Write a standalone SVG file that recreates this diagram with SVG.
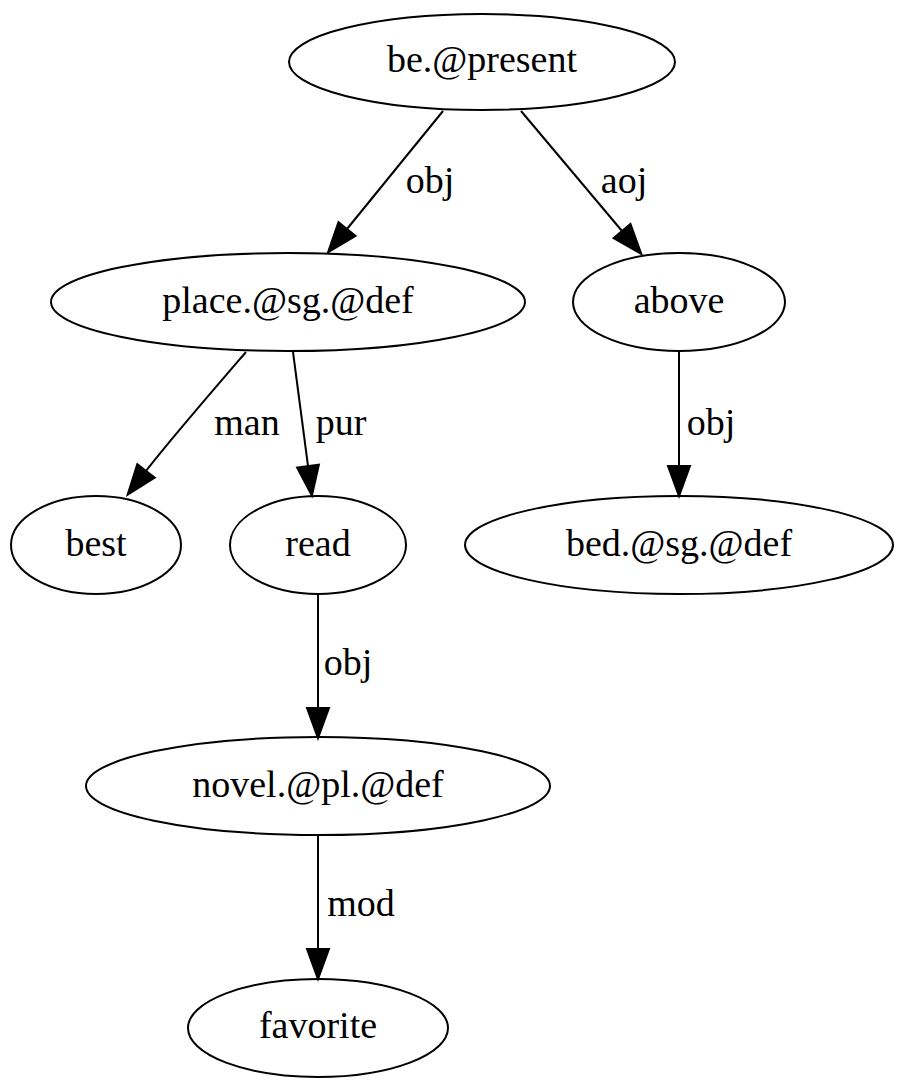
<svg xmlns="http://www.w3.org/2000/svg" width="905" height="1088" viewBox="0 0 905 1088">
<defs>
<style>
.n ellipse{fill:none;stroke:#000;stroke-width:2}
text{font-family:"Liberation Serif","Times New Roman",serif;font-size:38px;fill:#000}
.n text{text-anchor:middle}
.e path{fill:none;stroke:#000;stroke-width:2}
.e text{text-anchor:middle}
</style>
<marker id="ah" markerUnits="userSpaceOnUse" markerWidth="34" markerHeight="26" refX="0" refY="13" orient="auto" overflow="visible">
<path d="M0,2 L30,13 L0,24 Z" fill="#000" stroke="#000" stroke-width="2"/>
</marker>
</defs>
<rect width="905" height="1088" fill="#fff"/>
<g id="edges" class="e">
<path d="M443,111 L347,229" marker-end="url(#ah)"/>
<text x="430" y="193">obj</text>
<path d="M521,111 L622,231" marker-end="url(#ah)"/>
<text x="624" y="193">aoj</text>
<path d="M246,352 C215,388 170,440 146,471" marker-end="url(#ah)"/>
<text x="247" y="435">man</text>
<path d="M293,352 L308,466" marker-end="url(#ah)"/>
<text x="341" y="435">pur</text>
<path d="M679,352 L679,466" marker-end="url(#ah)"/>
<text x="711" y="435">obj</text>
<path d="M318,595 L318,708" marker-end="url(#ah)"/>
<text x="348" y="675">obj</text>
<path d="M318,836 L318,949" marker-end="url(#ah)"/>
<text x="361" y="916">mod</text>
</g>
<g id="be_present" class="n"><ellipse cx="482" cy="62" rx="193" ry="48"/><text x="482" y="72">be.@present</text></g>
<g id="place_sg_def" class="n"><ellipse cx="288" cy="302" rx="237" ry="49"/><text x="288" y="313">place.@sg.@def</text></g>
<g id="above" class="n"><ellipse cx="679" cy="302" rx="106" ry="49"/><text x="679" y="313">above</text></g>
<g id="best" class="n"><ellipse cx="96" cy="545" rx="85" ry="49"/><text x="96" y="556">best</text></g>
<g id="read" class="n"><ellipse cx="318" cy="545" rx="88" ry="49"/><text x="318" y="556">read</text></g>
<g id="bed_sg_def" class="n"><ellipse cx="679" cy="545" rx="214" ry="49"/><text x="679" y="556">bed.@sg.@def</text></g>
<g id="novel_pl_def" class="n"><ellipse cx="318" cy="786" rx="232" ry="49"/><text x="318" y="797">novel.@pl.@def</text></g>
<g id="favorite" class="n"><ellipse cx="318" cy="1028" rx="130" ry="49"/><text x="318" y="1038">favorite</text></g>
</svg>
